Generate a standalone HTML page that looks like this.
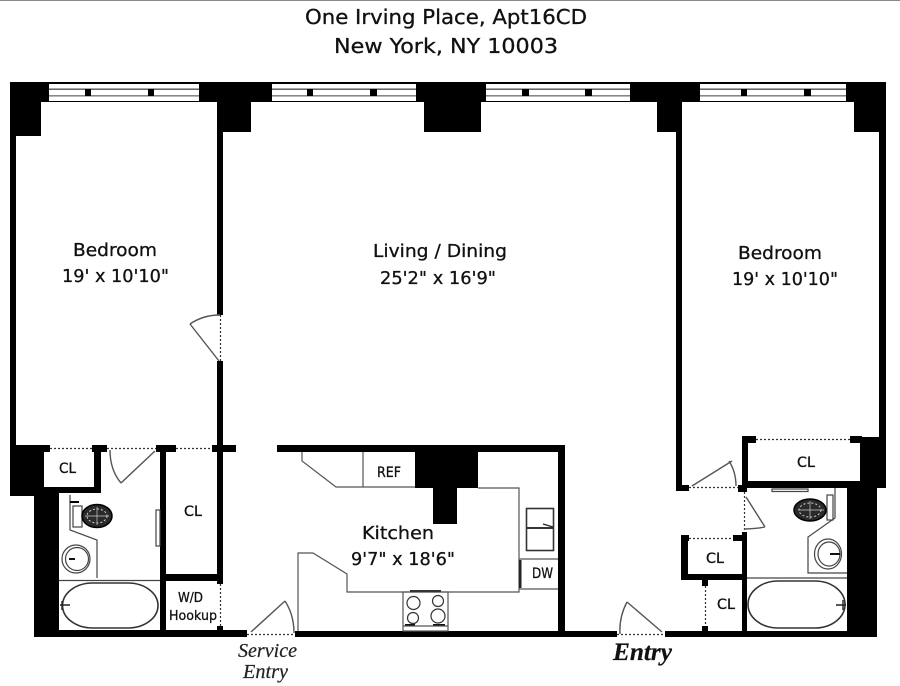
<!DOCTYPE html>
<html>
<head>
<meta charset="utf-8">
<style>
html,body{margin:0;padding:0;background:#fff;width:900px;height:686px;overflow:hidden}
svg{display:block;filter:blur(.35px)}
.t{font-family:"DejaVu Sans","Liberation Sans",sans-serif;fill:#111;stroke:#111;stroke-width:.3}
.s{font-family:"Liberation Serif",serif;font-style:italic;fill:#222;stroke:#222;stroke-width:.2}
</style>
</head>
<body>
<svg width="900" height="686" viewBox="0 0 900 686" xmlns="http://www.w3.org/2000/svg">
<rect width="900" height="686" fill="#fff"/>
<rect x="0" y="0" width="900" height="1" fill="#888"/>

<!-- walls -->
<g fill="#000">
<rect x="10" y="82" width="876" height="20"/>
<rect x="10" y="82" width="31" height="54"/>
<rect x="10" y="82" width="6" height="370"/>
<rect x="217" y="82" width="34" height="50"/>
<rect x="217" y="102" width="6" height="213"/>
<rect x="217" y="361" width="6" height="223"/>
<rect x="424" y="82" width="57" height="50"/>
<rect x="657" y="82" width="25" height="50"/>
<rect x="676" y="102" width="6" height="389"/>
<rect x="854" y="82" width="32" height="50"/>
<rect x="879" y="82" width="7" height="406"/>

<!-- lower left -->
<rect x="10" y="445" width="40" height="7"/>
<rect x="10" y="445" width="34" height="51"/>
<rect x="34" y="487" width="25" height="150"/>
<rect x="34" y="630" width="213" height="7"/>
<rect x="44" y="487" width="57" height="6"/>
<rect x="94" y="445" width="7" height="48"/>
<rect x="92" y="445" width="15" height="7"/>
<rect x="156" y="445" width="20" height="7"/>
<rect x="160" y="445" width="6" height="185"/>
<rect x="212" y="445" width="24" height="7"/>
<rect x="166" y="574" width="57" height="7"/>
<rect x="217" y="626" width="6" height="6"/>

<!-- kitchen -->
<rect x="277" y="445" width="288" height="7"/>
<rect x="558" y="445" width="7" height="190"/>
<rect x="415" y="452" width="63" height="36"/>
<rect x="433" y="488" width="24" height="36"/>
<rect x="295" y="631" width="322" height="6"/>

<!-- lower right -->
<rect x="665" y="631" width="212" height="6"/>
<rect x="847" y="488" width="30" height="149"/>
<rect x="860" y="437" width="26" height="51"/>
<rect x="850" y="436" width="12" height="7"/>
<rect x="742" y="436" width="14" height="7"/>
<rect x="742" y="436" width="6" height="51"/>
<rect x="742" y="481" width="118" height="7"/>
<rect x="676" y="485" width="13" height="6"/>
<rect x="738" y="485" width="9" height="7"/>
<rect x="742" y="532" width="5" height="99"/>
<rect x="733" y="535" width="9" height="6"/>
<rect x="681" y="535" width="8" height="6"/>
<rect x="681" y="535" width="7" height="45"/>
<rect x="681" y="574" width="66" height="6"/>
<rect x="702" y="580" width="6" height="6"/>
<rect x="702" y="626" width="6" height="5"/>
</g>

<!-- windows -->
<g>
<rect x="49" y="84" width="150" height="17" fill="#fff"/>
<rect x="49" y="88.5" width="150" height="1.4" fill="#555"/>
<rect x="49" y="95" width="150" height="1.6" fill="#888"/>
<rect x="85" y="89" width="6" height="7" fill="#000"/>
<rect x="148" y="89" width="6" height="7" fill="#000"/>
<rect x="272" y="84" width="144" height="17" fill="#fff"/>
<rect x="272" y="88.5" width="144" height="1.4" fill="#555"/>
<rect x="272" y="95" width="144" height="1.6" fill="#888"/>
<rect x="307" y="89" width="6" height="7" fill="#000"/>
<rect x="370" y="89" width="7" height="7" fill="#000"/>
<rect x="486" y="84" width="144" height="17" fill="#fff"/>
<rect x="486" y="88.5" width="144" height="1.4" fill="#555"/>
<rect x="486" y="95" width="144" height="1.6" fill="#888"/>
<rect x="522" y="89" width="7" height="7" fill="#000"/>
<rect x="585" y="89" width="7" height="7" fill="#000"/>
<rect x="700" y="84" width="146" height="17" fill="#fff"/>
<rect x="700" y="88.5" width="146" height="1.4" fill="#555"/>
<rect x="700" y="95" width="146" height="1.6" fill="#888"/>
<rect x="741" y="89" width="6" height="7" fill="#000"/>
<rect x="804" y="89" width="7" height="7" fill="#000"/>
</g>

<!-- dotted door openings -->
<g fill="none" stroke="#333" stroke-width="1.2" stroke-dasharray="2 2">
<path d="M50 448.5H92M107 448.5H156M176 448.5H212M756 439.5H850M689 487.5H738M689 538.5H733M247 634.5H295M617 634.5H665"/>
<path d="M220.5 315V361M220.5 584V626M744.5 492V532M705.5 586V626"/>
</g>

<!-- door leaves and swings -->
<g fill="none" stroke="#555" stroke-width="1.4">
<path d="M190 324L219 361M190 324Q203 315 220 315"/>
<path d="M155 451L121 483M121 483Q110 470 110 450"/>
<path d="M251 632L285 601M285 601Q294 615 294 633"/>
<path d="M662 632L627 602M627 602Q619 617 620 634"/>
<path d="M692 486L732 461M729 461Q736 472 736 486"/>
<path d="M746 497L765 527M765 527Q755 529 744 529"/>
</g>

<!-- left bath fixtures -->
<g fill="none" stroke="#444" stroke-width="1.2">
<path d="M59 580.5H160"/>
<path d="M70 495V530L97 540V578"/>
<rect x="156" y="510" width="4" height="36"/>
<rect x="73" y="506" width="9" height="21"/>
<circle cx="76" cy="559" r="14"/>
<circle cx="77" cy="559" r="11.5"/>
</g>
<rect x="70" y="501" width="9" height="2" fill="#000"/>
<ellipse cx="97" cy="516" rx="15" ry="11.5" fill="#2a2a2a" stroke="#000" stroke-width="1.5"/>
<ellipse cx="97" cy="516" rx="10" ry="7" fill="none" stroke="#ccc" stroke-width="1" stroke-dasharray="2 2"/>
<path d="M85 516H109M97 507V525" stroke="#ccc" stroke-width=".7"/>
<path d="M69 559H75" stroke="#111" stroke-width="2"/>
<rect x="62.5" y="583" width="95.5" height="45" rx="30" ry="22.5" fill="none" stroke="#333" stroke-width="1.6"/>
<path d="M60 605H70M62 601V610" stroke="#222" stroke-width="1.4"/>

<!-- right bath fixtures -->
<g fill="none" stroke="#444" stroke-width="1.2">
<path d="M747 578H847"/>
<path d="M835 488V518L808 537V573H847"/>
<rect x="772" y="489" width="36" height="2.5"/>
<rect x="827" y="495" width="6" height="25"/>
<ellipse cx="828" cy="554" rx="13.5" ry="15"/>
<ellipse cx="829" cy="554" rx="11" ry="12"/>
</g>
<ellipse cx="810" cy="510" rx="16" ry="11" fill="#2a2a2a" stroke="#000" stroke-width="1.5"/>
<ellipse cx="810" cy="510" rx="11" ry="7" fill="none" stroke="#ccc" stroke-width="1" stroke-dasharray="2 2"/>
<path d="M798 510H824M810 501V519" stroke="#ccc" stroke-width=".7"/>
<path d="M830 554H840" stroke="#111" stroke-width="2"/>
<rect x="748" y="581" width="97" height="47" rx="30" ry="23.5" fill="none" stroke="#333" stroke-width="1.6"/>
<path d="M836 605H846M843 600V610" stroke="#222" stroke-width="1.4"/>

<!-- kitchen fixtures -->
<g fill="none" stroke="#555" stroke-width="1.2">
<path d="M302 452V461L336 487H415"/>
<path d="M363 452V487"/>
<path d="M478 488H519V592H347V574L313 553H298V631"/>
<rect x="526.5" y="508.5" width="27" height="42" stroke="#333" stroke-width="1.6"/>
<path d="M527 528H553" stroke="#333" stroke-width="2"/>
<path d="M543 524L553 527" stroke="#222"/>
<path d="M519 559H558M519 589H558"/>
<rect x="403" y="592" width="45" height="39"/>
<path d="M403 626H448"/>
<circle cx="413.5" cy="603" r="6.5" stroke="#333"/>
<circle cx="438" cy="601" r="5.5" stroke="#333"/>
<circle cx="413" cy="618" r="5.5" stroke="#333"/>
<circle cx="438" cy="616" r="7" stroke="#333"/>
</g>
<rect x="519" y="560" width="2.5" height="28" fill="#222"/>
<rect x="410" y="590" width="31" height="2" fill="#333"/>
<rect x="405" y="624" width="10" height="1.5" fill="#111"/>
<rect x="433" y="624" width="12" height="1.5" fill="#111"/>

<!-- text -->
<g class="t" text-anchor="start">
<text x="305" y="24" font-size="20" textLength="282" lengthAdjust="spacingAndGlyphs">One Irving Place, Apt16CD</text>
<text x="334" y="53" font-size="20" textLength="224" lengthAdjust="spacingAndGlyphs">New York, NY 10003</text>
<g font-size="18">
<text x="73" y="256" textLength="84" lengthAdjust="spacingAndGlyphs">Bedroom</text>
<text x="62" y="282" textLength="107" lengthAdjust="spacingAndGlyphs">19' x 10'10"</text>
<text x="373" y="257" textLength="134" lengthAdjust="spacingAndGlyphs">Living / Dining</text>
<text x="380" y="284" textLength="116" lengthAdjust="spacingAndGlyphs">25'2" x 16'9"</text>
<text x="738" y="259" textLength="84" lengthAdjust="spacingAndGlyphs">Bedroom</text>
<text x="732" y="285" textLength="106" lengthAdjust="spacingAndGlyphs">19' x 10'10"</text>
<text x="362" y="539" textLength="72" lengthAdjust="spacingAndGlyphs">Kitchen</text>
<text x="351" y="565" textLength="104" lengthAdjust="spacingAndGlyphs">9'7" x 18'6"</text>
</g>
<g font-size="14">
<text x="59" y="473" textLength="17" lengthAdjust="spacingAndGlyphs">CL</text>
<text x="184" y="516" textLength="18" lengthAdjust="spacingAndGlyphs">CL</text>
<text x="377" y="477" textLength="24" lengthAdjust="spacingAndGlyphs">REF</text>
<text x="532" y="578" textLength="21" lengthAdjust="spacingAndGlyphs">DW</text>
<text x="797" y="467" textLength="18" lengthAdjust="spacingAndGlyphs">CL</text>
<text x="706" y="563" textLength="18" lengthAdjust="spacingAndGlyphs">CL</text>
<text x="717" y="609" textLength="18" lengthAdjust="spacingAndGlyphs">CL</text>
</g>
<g font-size="13">
<text x="178" y="602" textLength="25" lengthAdjust="spacingAndGlyphs">W/D</text>
<text x="169" y="620" textLength="48" lengthAdjust="spacingAndGlyphs">Hookup</text>
</g>
</g>
<text class="s" x="238" y="657" font-size="20" textLength="59" lengthAdjust="spacingAndGlyphs">Service</text>
<text class="s" x="243" y="678" font-size="20" textLength="45" lengthAdjust="spacingAndGlyphs">Entry</text>
<text class="s" x="613" y="660" font-size="25" font-weight="bold" style="fill:#111;stroke:#111" textLength="59" lengthAdjust="spacingAndGlyphs">Entry</text>
</svg>
</body>
</html>
